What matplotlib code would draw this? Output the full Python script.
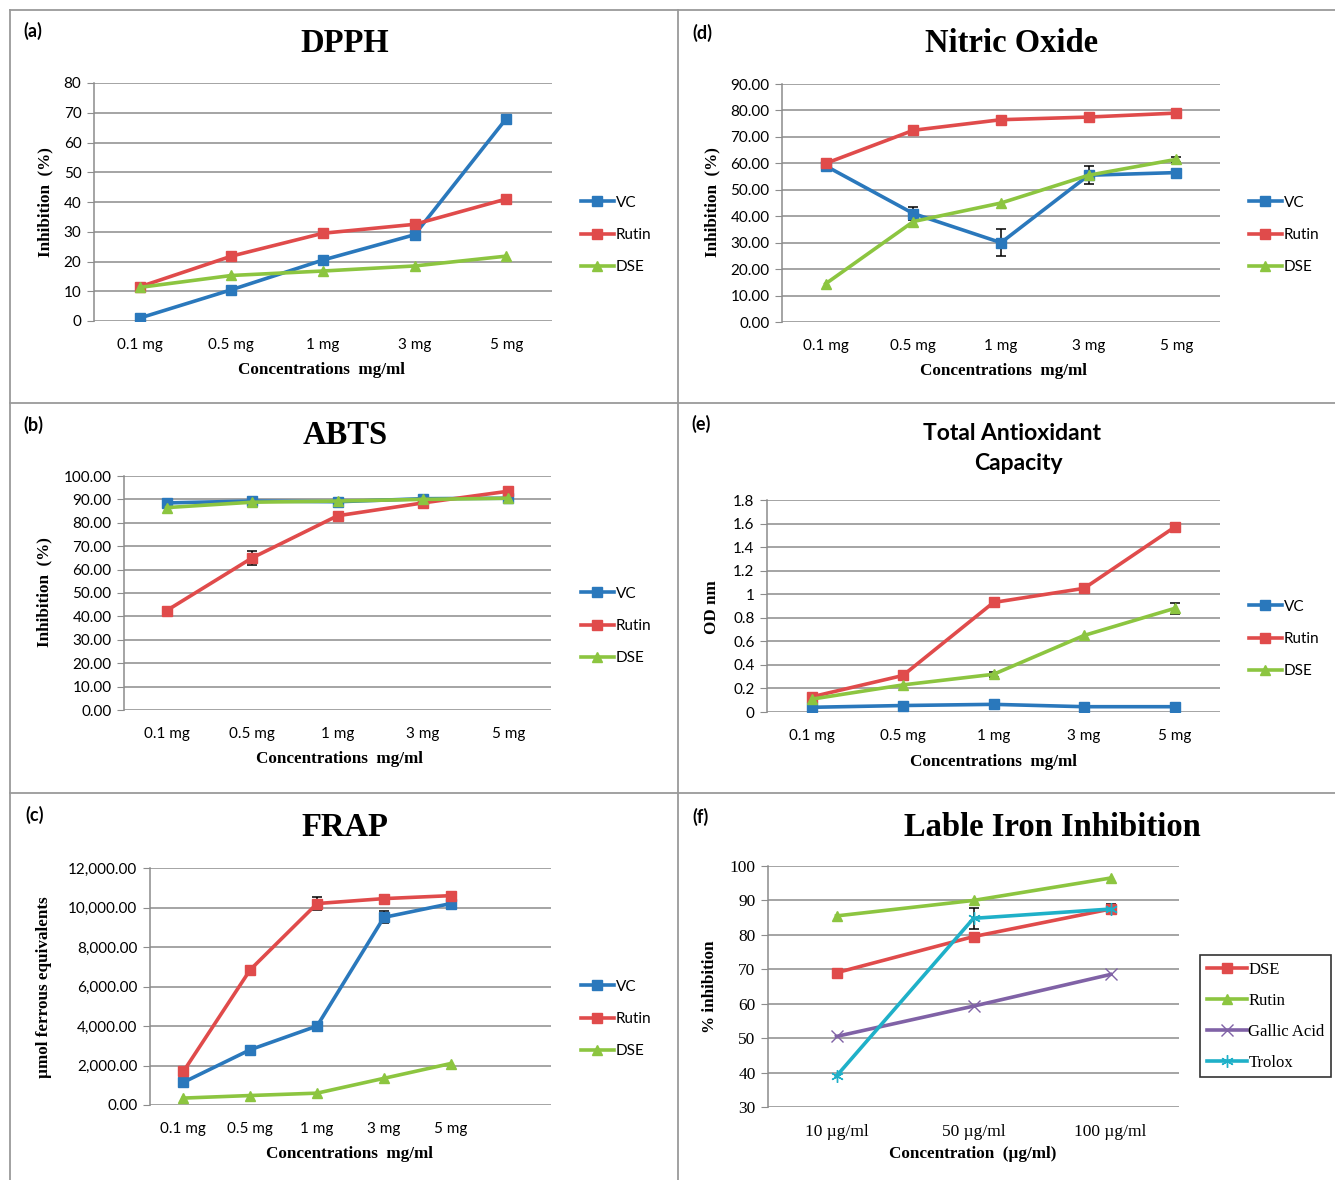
import numpy as np
import matplotlib.pyplot as plt
from matplotlib.lines import Line2D

W, H = 1335, 1180

conc = ["0.1 mg", "0.5 mg", "1 mg", "3 mg", "5 mg"]
conc_f = ["10 µg/ml", "50 µg/ml", "100 µg/ml"]

# (a) DPPH
dpph_vc = [1.0, 10.5, 20.5, 29.0, 68.0]
dpph_rutin = [11.5, 21.8, 29.5, 32.5, 41.0]
dpph_dse = [11.3, 15.3, 16.8, 18.5, 21.8]

# (b) ABTS
abts_vc = [88.5, 89.3, 89.0, 90.3, 90.5]
abts_rutin = [42.5, 65.0, 83.0, 88.5, 93.5]
abts_rutin_err = [0, 3.0, 0, 0, 0]
abts_dse = [86.5, 88.8, 89.3, 90.0, 90.5]

# (c) FRAP
frap_vc = [1150, 2800, 4000, 9500, 10200]
frap_vc_err = [0, 0, 0, 300, 150]
frap_rutin = [1700, 6850, 10200, 10450, 10600]
frap_rutin_err = [0, 0, 350, 200, 0]
frap_dse = [350, 480, 600, 1350, 2100]

# (d) Nitric oxide
no_vc = [59.0, 41.0, 30.0, 55.5, 56.5]
no_vc_err = [1.0, 2.5, 5.0, 3.5, 0]
no_rutin = [60.0, 72.5, 76.5, 77.5, 79.0]
no_dse = [14.5, 38.0, 45.0, 55.5, 61.5]
no_dse_err = [0, 0, 0, 0, 1.0]

# (e) Total antioxidant capacity
tac_vc = [0.04, 0.055, 0.065, 0.045, 0.045]
tac_rutin = [0.13, 0.31, 0.93, 1.05, 1.57]
tac_dse = [0.11, 0.23, 0.32, 0.65, 0.88]
tac_dse_err = [0, 0, 0.02, 0, 0.045]

# (f) Lable iron inhibition
lii_dse = [69.0, 79.5, 87.5]
lii_dse_err = [0, 0, 1.5]
lii_rutin = [85.5, 90.0, 96.5]
lii_gallic = [50.5, 59.3, 68.5]
lii_trolox = [39.0, 84.8, 87.5]
lii_trolox_err = [0, 3.0, 0]

BLUE = "#2a78bc"
RED = "#e04b4b"
GREEN = "#8cc540"
PURPLE = "#8062a6"
CYAN = "#1fb0c8"
GRID = "#8c8c8c"

SANS = ["Lato", "DejaVu Sans"]
SERIF = ["Liberation Serif", "DejaVu Serif"]

fig = plt.figure(figsize=(W / 100, H / 100), dpi=100)


def px_axes(l, t, r, b):
    return fig.add_axes([l / W, 1 - b / H, (r - l) / W, (b - t) / H])


def ftext(x, y, s, **kw):
    fig.text(x / W, 1 - y / H, s, **kw)


def style_axes(ax, ncat, ymin, ymax, step, fmt, labels, tick_family=SANS, tsize=11):
    ax.set_xlim(-0.5, ncat - 0.5)
    ax.set_ylim(ymin, ymax)
    yt = np.arange(ymin, ymax + step / 2, step)
    ax.set_yticks(yt)
    ax.set_yticklabels([fmt(v) for v in yt], family=tick_family, fontsize=tsize)
    ax.set_xticks(range(len(labels)))
    ax.set_xticklabels(labels, family=tick_family, fontsize=tsize)
    ax.grid(axis="y", color=GRID, lw=1.1)
    ax.set_axisbelow(True)
    for s in ["top", "right", "bottom"]:
        ax.spines[s].set_visible(False)
    ax.spines["left"].set_color(GRID)
    ax.spines["left"].set_linewidth(1.1)
    ax.tick_params(axis="y", length=5, color=GRID, pad=4)
    ax.tick_params(axis="x", length=0, pad=12)
    ax.patch.set_alpha(0)


def series(ax, y, color, marker, label, err=None, ms=7):
    x = np.arange(len(y))
    if err is not None:
        err = np.asarray(err, float)
        m = err > 0
        ax.errorbar(x[m], np.asarray(y)[m], yerr=err[m], fmt="none", ecolor="black",
                    elinewidth=1.1, capsize=3.5, capthick=1.1, zorder=2)
    ax.plot(x, y, color=color, lw=2.6, marker=marker, ms=ms, mfc=color,
            mec=color, label=label, zorder=3)


def side_legend(ax, x, y):
    ax.legend(loc="upper left", bbox_to_anchor=(x / W, 1 - y / H),
              bbox_transform=fig.transFigure, frameon=False,
              prop={"family": SANS, "size": 11}, handlelength=2.2,
              handletextpad=0.1, labelspacing=1.2, borderpad=0)


def g(v):
    return "%g" % round(v, 2)


TITLE = dict(family=SERIF, weight="bold", fontsize=23.5, ha="center", va="center")
ALAB = dict(family=SERIF, weight="bold", fontsize=12.3, ha="center", va="center")
YLAB = dict(ALAB, rotation=90)
LET = dict(family=SANS, weight="bold", fontsize=13, ha="left", va="center")

# ---- (a) DPPH ----
ax = px_axes(94, 83, 552, 321)
style_axes(ax, 5, 0, 80, 10, lambda v: "%d" % v, conc)
series(ax, dpph_vc, BLUE, "s", "VC")
series(ax, dpph_rutin, RED, "s", "Rutin")
series(ax, dpph_dse, GREEN, "^", "DSE")
side_legend(ax, 573, 188)
ftext(345, 44, "DPPH", **TITLE)
ftext(322, 370, "Concentrations  mg/ml", **ALAB)
ftext(45, 202, "Inhibition  (%)", **YLAB)
ftext(23, 31, "(a)", **LET)

# ---- (d) Nitric Oxide ----
ax = px_axes(782, 84, 1220, 322)
style_axes(ax, 5, 0, 90, 10, lambda v: "%.2f" % v, conc)
series(ax, no_vc, BLUE, "s", "VC", err=no_vc_err)
series(ax, no_rutin, RED, "s", "Rutin")
series(ax, no_dse, GREEN, "^", "DSE", err=no_dse_err)
side_legend(ax, 1241, 188)
ftext(1012, 44, "Nitric Oxide", **TITLE)
ftext(1003, 371, "Concentrations  mg/ml", **ALAB)
ftext(712, 202, "Inhibition  (%)", **YLAB)
ftext(692, 33, "(d)", **LET)

# ---- (b) ABTS ----
ax = px_axes(124, 476, 551, 710)
style_axes(ax, 5, 0, 100, 10, lambda v: "%.2f" % v, conc)
series(ax, abts_vc, BLUE, "s", "VC")
series(ax, abts_rutin, RED, "s", "Rutin", err=abts_rutin_err)
series(ax, abts_dse, GREEN, "^", "DSE")
side_legend(ax, 573, 579)
ftext(345, 436, "ABTS", **TITLE)
ftext(340, 759, "Concentrations  mg/ml", **ALAB)
ftext(44, 592, "Inhibition  (%)", **YLAB)
ftext(23, 425, "(b)", **LET)

# ---- (e) Total Antioxidant Capacity ----
ax = px_axes(767, 500, 1220, 712)
style_axes(ax, 5, 0, 1.8, 0.2, g, conc)
series(ax, tac_vc, BLUE, "s", "VC")
series(ax, tac_rutin, RED, "s", "Rutin")
series(ax, tac_dse, GREEN, "^", "DSE", err=tac_dse_err)
side_legend(ax, 1241, 592)
ftext(1012, 433, "Total Antioxidant", family=SANS, weight="bold", fontsize=16.5, ha="center", va="center")
ftext(1018, 464, "Capacity", family=SANS, weight="bold", fontsize=16.5, ha="center", va="center")
ftext(993, 762, "Concentrations  mg/ml", **ALAB)
ftext(712, 607, "OD nm", **YLAB)
ftext(691, 424, "(e)", **LET)

# ---- (c) FRAP ----
ax = px_axes(150, 868, 551, 1105)
style_axes(ax, 6, 0, 12000, 2000, lambda v: "{:,.2f}".format(v), conc)
series(ax, frap_vc, BLUE, "s", "VC", err=frap_vc_err)
series(ax, frap_rutin, RED, "s", "Rutin", err=frap_rutin_err)
series(ax, frap_dse, GREEN, "^", "DSE")
side_legend(ax, 573, 972)
ftext(345, 827, "FRAP", **TITLE)
ftext(350, 1154, "Concentrations  mg/ml", **ALAB)
ftext(44, 987, "µmol ferrous equivalents", **YLAB)
ftext(25, 815, "(c)", **LET)

# ---- (f) Lable Iron Inhibition ----
ax = px_axes(768, 866, 1179, 1107)
style_axes(ax, 3, 30, 100, 10, lambda v: "%d" % v, conc_f, tick_family=SERIF, tsize=12.5)
series(ax, lii_dse, RED, "s", "DSE", err=lii_dse_err)
series(ax, lii_rutin, GREEN, "^", "Rutin")
series(ax, lii_gallic, PURPLE, "x", "Gallic Acid", ms=8)
series(ax, lii_trolox, CYAN, (6, 2, 0), "Trolox", err=lii_trolox_err, ms=9)
leg = ax.legend(loc="upper left", bbox_to_anchor=(1200 / W, 1 - 955 / H),
                bbox_transform=fig.transFigure, frameon=True, fancybox=False,
                prop={"family": SERIF, "size": 12}, handlelength=2.4,
                handletextpad=0.1, labelspacing=0.9, borderpad=0.4,
                borderaxespad=0)
leg.get_frame().set_edgecolor("black")
leg.get_frame().set_linewidth(1.2)
ftext(1052, 827, "Lable Iron Inhibition", **TITLE)
ftext(973, 1154, "Concentration  (µg/ml)", **ALAB)
ftext(710, 987, "% inhibition", **YLAB)
ftext(692, 817, "(f)", **LET)

# panel frames
frame = dict(color="#9a9a9a", lw=1.3)
for x0, y0, x1, y1 in [(10, 10, 1335, 10), (10, 10, 10, 1180), (678, 10, 678, 1180),
                       (10, 403, 1335, 403), (10, 793, 1335, 793)]:
    fig.add_artist(Line2D([x0 / W, x1 / W], [1 - y0 / H, 1 - y1 / H], **frame))

fig.savefig("out.png", dpi=100)
